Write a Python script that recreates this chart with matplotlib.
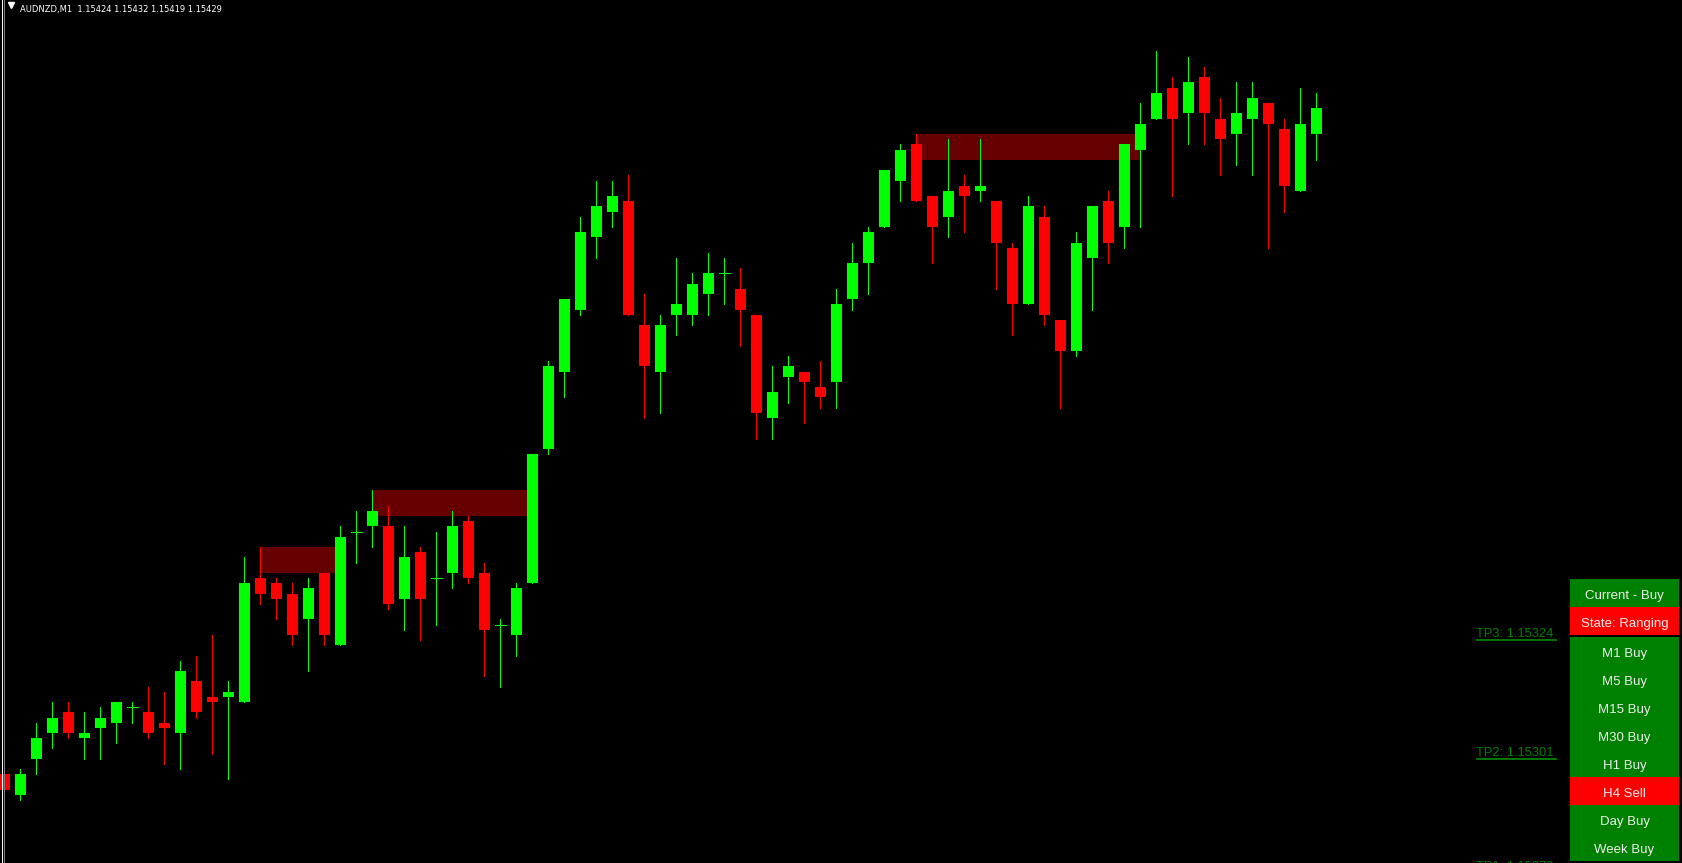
import matplotlib.pyplot as plt
import matplotlib.transforms as mtransforms
from matplotlib.lines import Line2D
from matplotlib.patches import Rectangle

# --- data (AUDNZD M1) ---
symbol = 'AUDNZD,M1'

opens = [1.15300, 1.15296, 1.15303, 1.15308, 1.15312, 1.15307, 1.15309, 1.15310, 1.15313, 1.15312,
         1.15310, 1.15308, 1.15318, 1.15315, 1.15315, 1.15314, 1.15338, 1.15337, 1.15335, 1.15330,
         1.15339, 1.15325, 1.15347, 1.15348, 1.15348, 1.15334, 1.15343, 1.15338, 1.15339, 1.15349,
         1.15339, 1.15329, 1.15327, 1.15337, 1.15363, 1.15378, 1.15390, 1.15404, 1.15409, 1.15411,
         1.15387, 1.15378, 1.15389, 1.15389, 1.15393, 1.15397, 1.15394, 1.15389, 1.15369, 1.15377,
         1.15378, 1.15375, 1.15376, 1.15392, 1.15399, 1.15406, 1.15415, 1.15422, 1.15412, 1.15408,
         1.15414, 1.15413, 1.15411, 1.15402, 1.15391, 1.15408, 1.15388, 1.15382, 1.15400, 1.15411,
         1.15406, 1.15421, 1.15427, 1.15433, 1.15428, 1.15435, 1.15427, 1.15424, 1.15427, 1.15430,
         1.15425, 1.15413, 1.15424]
highs = [1.15303, 1.15301, 1.15310, 1.15314, 1.15314, 1.15312, 1.15313, 1.15314, 1.15314, 1.15317,
         1.15316, 1.15322, 1.15323, 1.15327, 1.15318, 1.15342, 1.15344, 1.15338, 1.15337, 1.15338,
         1.15339, 1.15348, 1.15351, 1.15355, 1.15352, 1.15348, 1.15344, 1.15347, 1.15351, 1.15350,
         1.15341, 1.15330, 1.15337, 1.15362, 1.15380, 1.15392, 1.15408, 1.15415, 1.15415, 1.15416,
         1.15393, 1.15389, 1.15400, 1.15397, 1.15401, 1.15400, 1.15398, 1.15389, 1.15379, 1.15381,
         1.15378, 1.15380, 1.15394, 1.15403, 1.15406, 1.15417, 1.15422, 1.15424, 1.15412, 1.15423,
         1.15416, 1.15423, 1.15411, 1.15403, 1.15412, 1.15410, 1.15388, 1.15405, 1.15410, 1.15413,
         1.15422, 1.15430, 1.15440, 1.15435, 1.15439, 1.15437, 1.15431, 1.15434, 1.15434, 1.15430,
         1.15427, 1.15433, 1.15432]
lows = [1.15295, 1.15295, 1.15300, 1.15305, 1.15307, 1.15303, 1.15303, 1.15306, 1.15310, 1.15307,
        1.15302, 1.15301, 1.15311, 1.15304, 1.15299, 1.15314, 1.15333, 1.15330, 1.15325, 1.15320,
        1.15325, 1.15325, 1.15341, 1.15344, 1.15332, 1.15328, 1.15326, 1.15329, 1.15336, 1.15337,
        1.15319, 1.15317, 1.15323, 1.15337, 1.15362, 1.15373, 1.15389, 1.15400, 1.15406, 1.15389,
        1.15369, 1.15370, 1.15385, 1.15387, 1.15389, 1.15391, 1.15383, 1.15365, 1.15365, 1.15372,
        1.15368, 1.15371, 1.15371, 1.15390, 1.15393, 1.15406, 1.15411, 1.15411, 1.15399, 1.15404,
        1.15405, 1.15411, 1.15394, 1.15385, 1.15391, 1.15387, 1.15371, 1.15381, 1.15390, 1.15399,
        1.15402, 1.15406, 1.15427, 1.15412, 1.15422, 1.15422, 1.15416, 1.15418, 1.15416, 1.15402,
        1.15409, 1.15413, 1.15419]
closes = [1.15297, 1.15300, 1.15307, 1.15311, 1.15308, 1.15308, 1.15311, 1.15314, 1.15313, 1.15308,
          1.15309, 1.15320, 1.15312, 1.15314, 1.15316, 1.15337, 1.15335, 1.15334, 1.15327, 1.15336,
          1.15327, 1.15346, 1.15347, 1.15351, 1.15333, 1.15342, 1.15334, 1.15338, 1.15348, 1.15338,
          1.15328, 1.15329, 1.15336, 1.15362, 1.15379, 1.15392, 1.15405, 1.15410, 1.15412, 1.15389,
          1.15379, 1.15387, 1.15391, 1.15395, 1.15397, 1.15397, 1.15390, 1.15370, 1.15374, 1.15379,
          1.15376, 1.15373, 1.15391, 1.15399, 1.15405, 1.15417, 1.15421, 1.15411, 1.15406, 1.15413,
          1.15412, 1.15414, 1.15403, 1.15391, 1.15410, 1.15389, 1.15382, 1.15403, 1.15410, 1.15403,
          1.15422, 1.15426, 1.15432, 1.15427, 1.15434, 1.15428, 1.15423, 1.15428, 1.15431, 1.15426,
          1.15414, 1.15426, 1.15429]

# supply zones (first bar, last bar, low, high)
zone_start = [16, 23, 57]
zone_end = [21, 33, 71]
zone_low = [1.15339, 1.15350, 1.15419]
zone_high = [1.15344, 1.15355, 1.15424]

tp_names = ['TP3', 'TP2', 'TP1']
tp_prices = [1.15324, 1.15301, 1.15279]

panel_labels = ['Current - Buy', 'State: Ranging', 'M1 Buy', 'M5 Buy', 'M15 Buy',
                'M30 Buy', 'H1 Buy', 'H4 Sell', 'Day Buy', 'Week Buy']
panel_colors = ['#008000', '#ff0000', '#008000', '#008000', '#008000',
                '#008000', '#008000', '#ff0000', '#008000', '#008000']

# --- figure ---
W, H = 1682, 863
fig = plt.figure(figsize=(W / 100, H / 100), dpi=100)
fig.patch.set_facecolor('black')
ax = fig.add_axes([0, 0, 1, 1])
ax.set_facecolor('black')
for s in ax.spines.values():
    s.set_visible(False)
ax.set_xticks([])
ax.set_yticks([])

bar_px = 16.0
ax.set_xlim(-4.5 / bar_px, (W - 4.5) / bar_px)
ax.set_ylim(1.1528282, 1.1544997)

up_col = '#00ff00'
dn_col = '#ff0000'
px = 72 / 100  # one pixel in points

# zones behind the candles
for s, e, lo, hi in zip(zone_start, zone_end, zone_low, zone_high):
    ax.add_patch(Rectangle((s, lo), e - s, hi - lo, facecolor='#660000',
                           edgecolor='none', zorder=1, antialiased=False))

body_w = 11 / bar_px
for i, (o, h, l, c) in enumerate(zip(opens, highs, lows, closes)):
    col = up_col if c >= o else dn_col
    ax.vlines(i, l, h, color=col, lw=px, zorder=2, antialiased=False)
    if c == o:
        ax.hlines(o, i - body_w / 2, i + body_w / 2, color=col, lw=px,
                  zorder=3, antialiased=False)
    else:
        ax.bar(i, abs(c - o), bottom=min(o, c), width=body_w, color=col,
               linewidth=0, zorder=3, antialiased=False)

# title line
title = f'{symbol}  {opens[-1]:.5f} {highs[-1]:.5f} {lows[-1]:.5f} {closes[-1]:.5f}'
fig.text(20 / W, 1 - 12 / H, title, color='white', fontsize=6,
         family='DejaVu Sans', va='baseline', ha='left')
fig.add_artist(Line2D([10.5 / W], [1 - 5.5 / H], marker='v', markersize=4.5,
                      color='white', linestyle='none'))

# left frame lines
fig.add_artist(Line2D([1.5 / W, 1.5 / W], [0, 1], color='white', lw=px))
fig.add_artist(Line2D([3.5 / W, 3.5 / W], [0, 1], color='#808080', lw=px))

# take-profit labels
blend = mtransforms.blended_transform_factory(ax.transAxes, ax.transData)
txt_tr = mtransforms.offset_copy(blend, fig=fig, x=0, y=13, units='dots')
line_tr = mtransforms.offset_copy(blend, fig=fig, x=0, y=10, units='dots')
for name, p in zip(tp_names, tp_prices):
    ax.text(1476 / W, p, f'{name}: {p:.5f}', transform=txt_tr, color='#008000',
            fontsize=9.3, family='Liberation Sans', va='baseline', ha='left', zorder=5)
    ax.plot([1476 / W, 1557 / W], [p, p], transform=line_tr, color='#008000',
            lw=1.3, solid_capstyle='butt', zorder=5)

# signal panel
x0, x1 = 1570, 1679
row_h = 28
for k, (lab, col) in enumerate(zip(panel_labels, panel_colors)):
    top = 579 + k * row_h + (2 if k >= 2 else 0)
    fig.add_artist(Rectangle((x0 / W, 1 - (top + row_h) / H), (x1 - x0) / W, row_h / H,
                             transform=fig.transFigure, facecolor=col, edgecolor='none',
                             antialiased=False))
    fig.text((x0 + x1) / 2 / W, 1 - (top + 19.5) / H, lab, color='#eeeeee',
             fontsize=9.5, family='Liberation Sans', ha='center', va='baseline')

fig.savefig('out.png', dpi=100, facecolor='black')
